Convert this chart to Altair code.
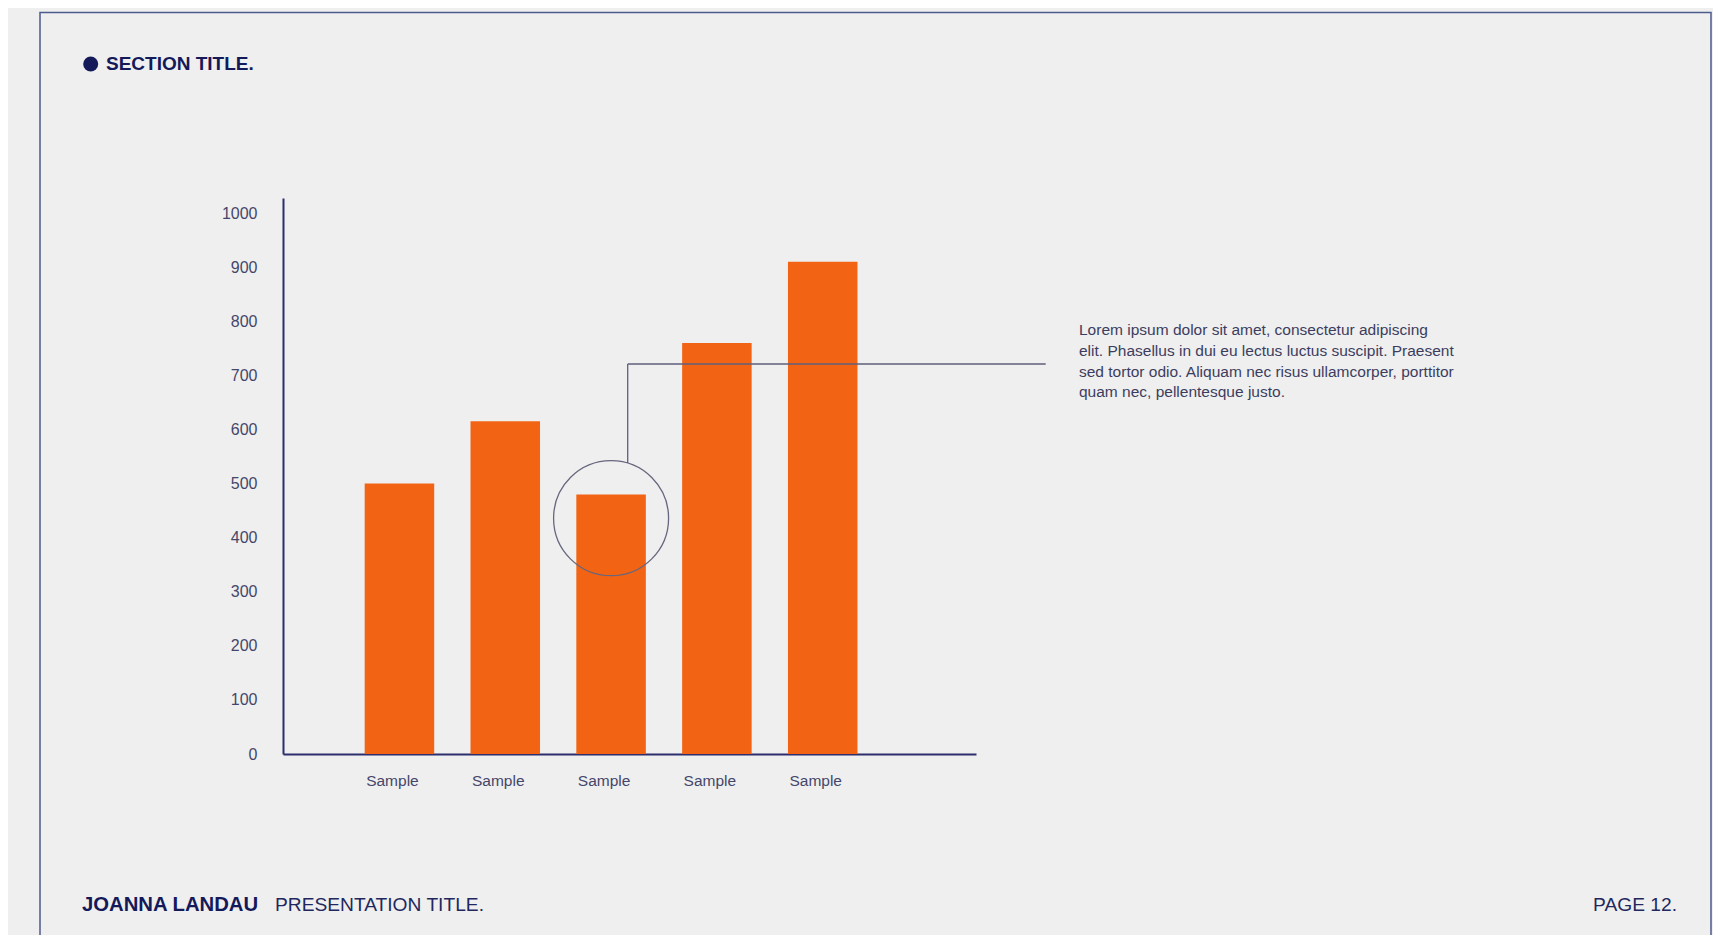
import altair as alt
import pandas as pd

# ---- data ----
categories = ["Sample 1", "Sample 2", "Sample 3", "Sample 4", "Sample 5"]
tick_labels = ["Sample", "Sample", "Sample", "Sample", "Sample"]
values = [500, 615, 480, 760, 910]
y_ticks = [0, 100, 200, 300, 400, 500, 600, 700, 800, 900, 1000]
highlight_category = ["Sample 3"]
highlight_value = [436]
note_lines = [
    "Lorem ipsum dolor sit amet, consectetur adipiscing",
    "elit. Phasellus in dui eu lectus luctus suscipit. Praesent",
    "sed tortor odio. Aliquam nec risus ullamcorper, porttitor",
    "quam nec, pellentesque justo.",
]
section_title = "SECTION TITLE."
author = "JOANNA LANDAU"
presentation = "PRESENTATION TITLE."
page = "PAGE 12."

df = pd.DataFrame({"cat": categories, "label": tick_labels, "value": values})
hl = pd.DataFrame({"cat": highlight_category, "value": highlight_value})
one = pd.DataFrame({"k": [0]})

NAVY = "#14195a"
AXIS = "#2d2f6c"
LABEL = "#45466a"
ORANGE = "#f26414"
FRAME = "#4d5b8e"
BG = "#efefef"
FONT = "Liberation Sans"

W, H = 693, 556
PAD_L, PAD_T = 275, 190
TOTAL_W, TOTAL_H = 1705, 927

label_expr = "{" + ",".join(f"'{c}':'{l}'" for c, l in zip(categories, tick_labels)) + "}[datum.value]"

xscale = alt.Scale(domain=categories, paddingInner=0.343, paddingOuter=0.946, align=0.408)
yscale = alt.Scale(domain=[0, 1028], nice=False, zero=True)

bars = alt.Chart(df).mark_bar(color=ORANGE).encode(
    x=alt.X("cat:N", scale=xscale, sort=categories,
            axis=alt.Axis(title=None, labelExpr=label_expr, labelAngle=0, ticks=False, tickSize=0,
                          labelPadding=19, labelOffset=-7, labelFontSize=15.5, labelColor=LABEL,
                          labelFont=FONT, domainColor=AXIS, domainWidth=2, grid=False)),
    y=alt.Y("value:Q", scale=yscale,
            axis=alt.Axis(title=None, values=y_ticks, format="d", ticks=False, tickSize=0,
                          labelPadding=26, labelFontSize=16, labelColor=LABEL, labelFont=FONT,
                          domainColor=AXIS, domainWidth=2, grid=False)),
)

circle = alt.Chart(hl).mark_point(shape="circle", size=13225, filled=False,
                                  stroke="#66667e", strokeWidth=1.3, opacity=1).encode(
    x=alt.X("cat:N", scale=xscale, sort=categories),
    y=alt.Y("value:Q", scale=yscale),
)

vline = alt.Chart(one).mark_rule(color="#5e5f7c", strokeWidth=1.3).encode(
    x=alt.value(344.7), y=alt.value(265), y2=alt.value(166))
hline = alt.Chart(one).mark_rule(color="#5e5f7c", strokeWidth=1.3).encode(
    x=alt.value(344.7), x2=alt.value(762.7), y=alt.value(166))

note = alt.Chart(one).mark_text(text=note_lines, align="left", baseline="top", lineHeight=20.8,
                                fontSize=15.5, font=FONT, color="#3c3d5e").encode(
    x=alt.value(796), y=alt.value(125))

frame = alt.Chart(one).mark_rect(fill=None, stroke=FRAME, strokeWidth=1.5).encode(
    x=alt.value(-243), x2=alt.value(1428), y=alt.value(-185.5), y2=alt.value(780))

dot = alt.Chart(one).mark_point(shape="circle", size=225, filled=True, color=NAVY, opacity=1).encode(
    x=alt.value(-192.3), y=alt.value(-134))
title = alt.Chart(one).mark_text(text=section_title, align="left", baseline="middle",
                                 fontSize=19, fontWeight="bold", font=FONT, color=NAVY).encode(
    x=alt.value(-177), y=alt.value(-134))

foot1 = alt.Chart(one).mark_text(text=author, align="left", baseline="middle",
                                 fontSize=20.3, fontWeight="bold", font=FONT, color=NAVY).encode(
    x=alt.value(-201), y=alt.value(707))
foot2 = alt.Chart(one).mark_text(text=presentation, align="left", baseline="middle",
                                 fontSize=19.2, font=FONT, color="#22285e").encode(
    x=alt.value(-8), y=alt.value(707))
foot3 = alt.Chart(one).mark_text(text=page, align="right", baseline="middle",
                                 fontSize=19.2, font=FONT, color="#22285e").encode(
    x=alt.value(1394), y=alt.value(707))

chart = alt.layer(frame, bars, circle, vline, hline, note, dot, title, foot1, foot2, foot3).properties(
    width=W, height=H,
    autosize=alt.AutoSizeParams(type="none"),
    padding={"left": PAD_L, "top": PAD_T, "right": TOTAL_W - PAD_L - W, "bottom": TOTAL_H - PAD_T - H},
    background=BG,
).configure_view(strokeWidth=0)

chart.save("out.html", embed_options={"renderer": "svg", "actions": False})
